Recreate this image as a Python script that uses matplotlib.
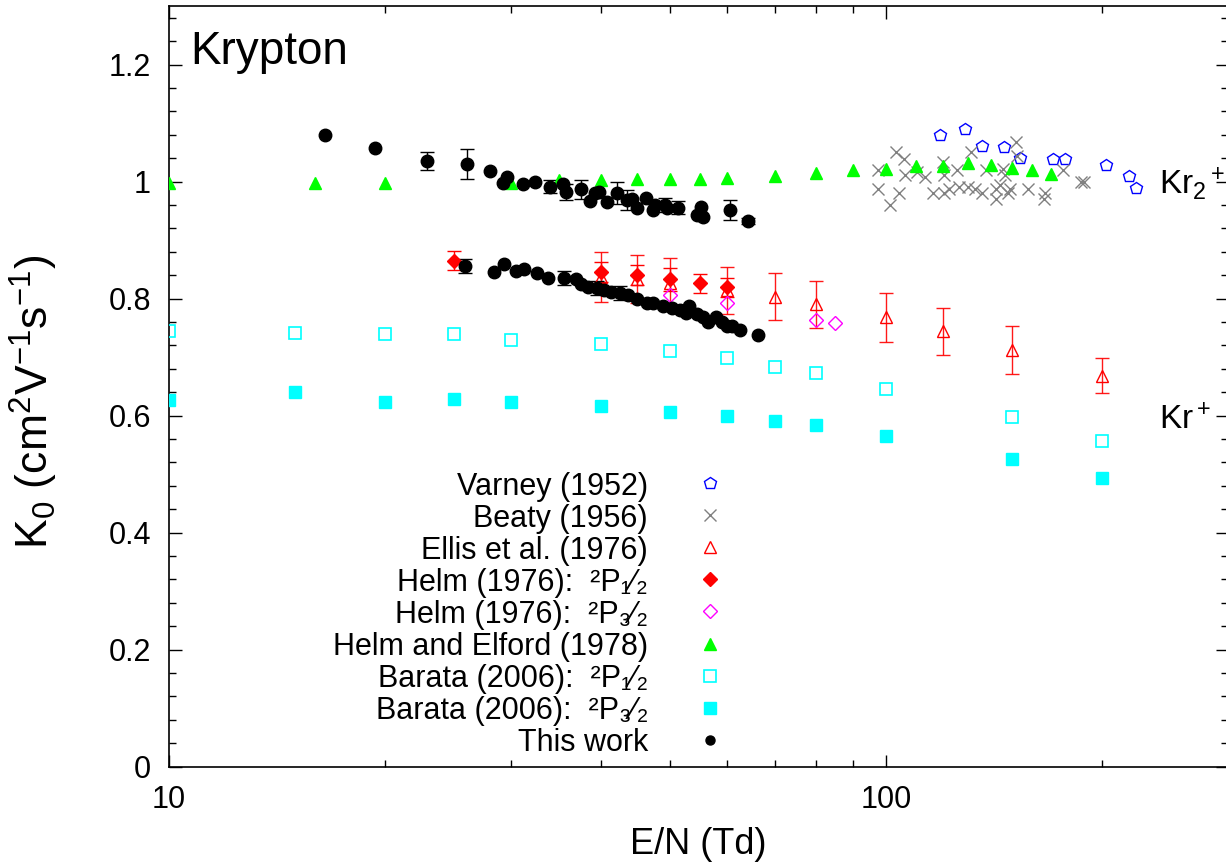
import numpy as np
import matplotlib
matplotlib.use("Agg")
import matplotlib.pyplot as plt
from matplotlib.ticker import FixedLocator, MultipleLocator, NullFormatter
from matplotlib.lines import Line2D

plt.rcParams['font.family'] = ['Liberation Sans', 'DejaVu Sans']
plt.rcParams['mathtext.fontset'] = 'custom'
plt.rcParams['mathtext.rm'] = 'Liberation Sans'
plt.rcParams['mathtext.it'] = 'Liberation Sans:italic'
plt.rcParams['mathtext.bf'] = 'Liberation Sans:bold'

# ---------------- data ----------------
varney_en = [119, 129, 136, 146, 154, 171, 178, 203, 218, 223]
varney_k0 = [1.079, 1.089, 1.060, 1.059, 1.040, 1.039, 1.039, 1.029, 1.009, 0.989]

beaty_en = [97.6, 97.6, 101.3, 103.3, 104.4, 106.0, 106.3, 110.4, 113.2, 116.3,
            120.2, 120.4, 120.5, 122.3, 125.5, 126.6, 130.3, 131.3, 133.3, 136.3,
            137.8, 142.6, 142.3, 144.3, 145.8, 146.6, 147.8, 149.1, 152.0, 152.5,
            157.7, 166.7, 166.4, 176.6, 187.0, 189.0]
beaty_k0 = [1.019, 0.988, 0.960, 1.051, 0.980, 1.039, 1.011, 1.017, 1.008, 0.980,
            1.034, 1.011, 0.980, 0.988, 1.019, 0.990, 0.990, 1.051, 0.988, 0.980,
            1.019, 0.988, 0.971, 0.994, 1.022, 1.011, 0.980, 0.988, 1.068, 1.043,
            0.988, 0.980, 0.971, 1.019, 0.999, 0.999]

ellis_en = [40, 45, 50, 60, 70, 80, 100, 120, 150, 200]
ellis_k0 = [0.837, 0.833, 0.826, 0.814, 0.803, 0.790, 0.768, 0.744, 0.712, 0.668]
ellis_err = [0.042, 0.041, 0.043, 0.040, 0.040, 0.040, 0.042, 0.040, 0.041, 0.030]

helm12_en = [25, 40, 45, 50, 55, 60]
helm12_k0 = [0.865, 0.846, 0.840, 0.833, 0.826, 0.819]
helm12_err = [0.017, 0.017, 0.017, 0.020, 0.016, 0.016]

helm32_en = [50, 60, 80, 85]
helm32_k0 = [0.806, 0.792, 0.763, 0.758]

he_en = [10, 16, 20, 30, 35, 40, 45, 50, 55, 60, 70, 80, 90, 100, 110, 120,
         130, 140, 150, 160, 170]
he_k0 = [0.997, 0.997, 0.998, 0.998, 1.002, 1.002, 1.004, 1.004, 1.005, 1.006,
         1.010, 1.014, 1.019, 1.022, 1.026, 1.027, 1.031, 1.028, 1.023, 1.019, 1.013]

barata_en = [10, 15, 20, 25, 30, 40, 50, 60, 70, 80, 100, 150, 200]
barata12_k0 = [0.745, 0.742, 0.740, 0.739, 0.730, 0.723, 0.710, 0.698, 0.683,
               0.672, 0.646, 0.598, 0.556]
barata32_k0 = [0.627, 0.640, 0.623, 0.629, 0.624, 0.617, 0.607, 0.599, 0.591,
               0.584, 0.566, 0.525, 0.494]

# This work, Kr2+ (upper branch)
tw2_en = [16.5, 19.4, 22.9, 26.0, 28.0, 29.6, 29.2, 31.2, 32.4, 34.0, 35.4, 35.8,
          37.6, 38.7, 39.3, 39.8, 40.8, 42.2, 43.5, 44.2, 45.0, 46.3, 47.3, 47.6,
          49.2, 49.5, 51.3, 54.5, 55.3, 55.5, 60.6, 64.2]
tw2_k0 = [1.079, 1.057, 1.035, 1.030, 1.018, 1.008, 0.998, 0.996, 0.999, 0.991,
          0.996, 0.982, 0.987, 0.966, 0.980, 0.982, 0.965, 0.980, 0.968, 0.970,
          0.955, 0.972, 0.951, 0.960, 0.960, 0.955, 0.955, 0.943, 0.957, 0.939,
          0.951, 0.932]
tw2_err = [0, 0, 0.015, 0.025, 0, 0, 0, 0, 0, 0.011, 0, 0.013, 0.016, 0, 0, 0,
           0, 0.019, 0.017, 0, 0, 0, 0, 0, 0.012, 0, 0.011, 0, 0, 0, 0.017, 0.005]

# This work, Kr+ (lower branch)
tw1_en = [25.9, 28.4, 29.3, 30.5, 31.3, 32.6, 33.8, 35.6, 36.9, 37.5, 38.4, 39.5,
          40.4, 41.3, 42.6, 43.7, 45.0, 46.4, 47.4, 48.9, 50.3, 51.6, 52.6, 53.2,
          54.5, 55.5, 56.4, 58.0, 59.0, 60.1, 61.0, 62.6, 66.3]
tw1_k0 = [0.855, 0.845, 0.859, 0.847, 0.850, 0.843, 0.835, 0.835, 0.833, 0.825,
          0.820, 0.818, 0.814, 0.811, 0.809, 0.806, 0.799, 0.792, 0.792, 0.787,
          0.784, 0.780, 0.775, 0.787, 0.774, 0.768, 0.760, 0.768, 0.760, 0.753,
          0.753, 0.746, 0.738]
tw1_err = [0.012, 0, 0, 0, 0, 0, 0, 0.012, 0, 0, 0, 0.012, 0, 0, 0.012, 0, 0, 0,
           0, 0, 0, 0, 0, 0, 0, 0, 0, 0, 0, 0, 0, 0, 0]

labels = ["Varney (1952)", "Beaty (1956)", "Ellis et al. (1976)",
          "Helm (1976):  \u00b2P\u2081\u2044\u2082", "Helm (1976):  \u00b2P\u2083\u2044\u2082",
          "Helm and Elford (1978)", "Barata (2006):  \u00b2P\u2081\u2044\u2082",
          "Barata (2006):  \u00b2P\u2083\u2044\u2082", "This work"]

# ---------------- figure ----------------
fig = plt.figure(figsize=(12.26, 8.63), dpi=100)
ax = fig.add_axes([169 / 1226, (863 - 766.7) / 863, (1228 - 169) / 1226, 760.7 / 863])

FS_TICK = 22
FS_LEG = 22
FS_XLAB = 26
FS_YLAB = 32


def errbars(x, y, e, color, alpha=1.0):
    x = np.asarray(x); y = np.asarray(y); e = np.asarray(e)
    m = e > 0
    ax.errorbar(x[m], y[m], yerr=e[m], fmt='none', ecolor=color, elinewidth=1.0,
                capsize=5, capthick=1.0, alpha=alpha, zorder=2)


handles = []
h, = ax.plot(varney_en, varney_k0, ls='none', marker='p', ms=9, mfc='none',
             mec='#0000ff', mew=1.0, zorder=3)
handles.append(h)
h, = ax.plot(beaty_en, beaty_k0, ls='none', marker='x', ms=9, mec='#808080',
             mew=1.0, zorder=3)
handles.append(h)
errbars(ellis_en, ellis_k0, ellis_err, '#ff0000', 0.9)
h, = ax.plot(ellis_en, ellis_k0, ls='none', marker='^', ms=9, mfc='none',
             mec='#ff0000', mew=1.0, zorder=3)
handles.append(h)
errbars(helm12_en, helm12_k0, helm12_err, '#ff0000')
h, = ax.plot(helm12_en, helm12_k0, ls='none', marker='D', ms=7.5, mfc='#ff0000',
             mec='#ff0000', mew=1.0, zorder=4)
handles.append(h)
h, = ax.plot(helm32_en, helm32_k0, ls='none', marker='D', ms=7.5, mfc='none',
             mec='#ff00ff', mew=1.0, zorder=4)
handles.append(h)
h, = ax.plot(he_en, he_k0, ls='none', marker='^', ms=8, mfc='#00ff00',
             mec='#00ff00', mew=1.0, zorder=3)
handles.append(h)
h, = ax.plot(barata_en, barata12_k0, ls='none', marker='s', ms=8.5, mfc='none',
             mec='#00ffff', mew=1.2, zorder=3)
handles.append(h)
h, = ax.plot(barata_en, barata32_k0, ls='none', marker='s', ms=8.5, mfc='#00ffff',
             mec='#00ffff', mew=1.0, zorder=3)
handles.append(h)
errbars(tw2_en, tw2_k0, tw2_err, 'black')
errbars(tw1_en, tw1_k0, tw1_err, 'black')
h, = ax.plot(tw2_en, tw2_k0, ls='none', marker='o', ms=9, mfc='black', mec='black',
             zorder=5)
ax.plot(tw1_en, tw1_k0, ls='none', marker='o', ms=9, mfc='black', mec='black', zorder=5)
handles.append(h)

# ---------------- axes ----------------
ax.set_xscale('log')
ax.set_xlim(10, 300)
ax.set_ylim(0, 1.3)
ax.xaxis.set_major_locator(FixedLocator([10, 100]))
ax.xaxis.set_minor_locator(FixedLocator([20, 30, 40, 50, 60, 70, 80, 90, 200, 300]))
ax.xaxis.set_minor_formatter(NullFormatter())
ax.set_xticklabels(['10', '100'])
ax.yaxis.set_minor_locator(MultipleLocator(0.04))
ax.set_yticks([0, 0.2, 0.4, 0.6, 0.8, 1.0, 1.2])
ax.set_yticklabels(['0', '0.2', '0.4', '0.6', '0.8', '1', '1.2'])
ax.tick_params(which='both', direction='in', top=True, right=True,
               labelsize=FS_TICK, width=1.0)
ax.tick_params(which='major', length=9, pad=13)
ax.tick_params(which='minor', length=5)
for s in ax.spines.values():
    s.set_linewidth(1.2)

ax.set_xlabel('E/N (Td)', fontsize=FS_XLAB, labelpad=9)
ax.set_ylabel('K$_0$ (cm$^2$V$^{-1}$s$^{-1}$)', fontsize=FS_YLAB)
ax.yaxis.set_label_coords(-0.103, 0.479)

ax.text(0.02, 0.94, 'Krypton', transform=ax.transAxes, fontsize=33,
        ha='left', va='center')
ax.text(240, 0.997, 'Kr$_2$$^+$', fontsize=24, ha='left', va='center')
ax.text(240, 0.592, 'Kr$^+$', fontsize=24, ha='left', va='center')

# ---------------- key (gnuplot style: right-aligned text, marker to the right) ----
key_text_x = (648 - 169) / 1059
key_mark_x = (710 - 169) / 1059
key_top = (766.7 - 483) / 760.7
key_step = 32.1 / 760.7
for i, (lab, hd) in enumerate(zip(labels, handles)):
    yy = key_top - i * key_step
    ax.text(key_text_x, yy, lab, transform=ax.transAxes, fontsize=FS_LEG,
            ha='right', va='center_baseline')
    mk = Line2D([key_mark_x], [yy], ls='none')
    mk.update_from(hd)
    mk.set_data([key_mark_x], [yy])
    mk.set_transform(ax.transAxes)
    mk.set_clip_on(False)
    if i == len(labels) - 1:
        mk.set_markersize(6.5)
    ax.add_line(mk)

fig.savefig('out.png', dpi=100)
